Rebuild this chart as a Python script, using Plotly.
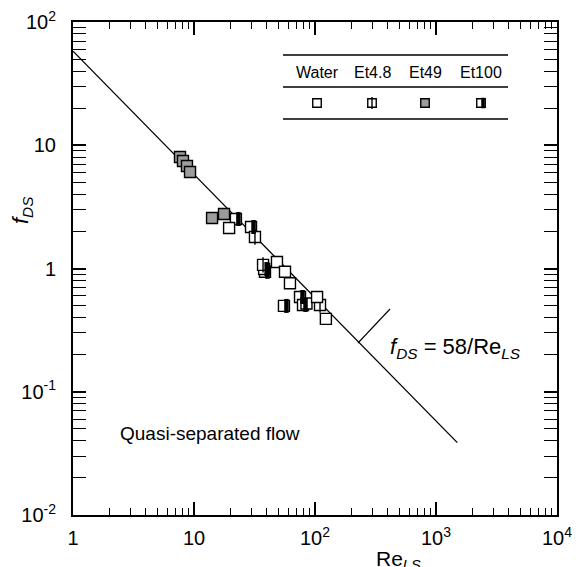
import numpy as np
import plotly.graph_objects as go

# ---------------- data ----------------
water_re = [19.5, 48.5, 56.5, 62.1, 85.0, 104.0, 123.0]
water_f = [2.13, 1.13, 0.94, 0.76, 0.52, 0.587, 0.39]

et48_re = [31.9, 37.2, 110.0]
et48_f = [1.80, 1.07, 0.506]

et49_re = [7.66, 8.11, 8.75, 9.27, 14.1, 17.7]
et49_f = [8.03, 7.45, 6.79, 6.07, 2.57, 2.77]

et100_re = [22.2, 29.6, 38.6, 38.0, 75.2, 79.6, 55.4]
et100_f = [2.52, 2.17, 0.94, 0.99, 0.587, 0.506, 0.497]

fit_coef = 58.0
fit_re = [1.0, 1500.0]
fit_f = [fit_coef / r for r in fit_re]

x_tickvals = [1, 10, 100, 1000, 10000]
x_ticktext = ["1", "10", "10<sup>2</sup>", "10<sup>3</sup>", "10<sup>4</sup>"]
y_tickvals = [0.01, 0.1, 1, 10, 100]
y_ticktext = ["10<sup>-2</sup>", "10<sup>-1</sup>", "1", "10", "10<sup>2</sup>"]

legend_names = ["Water", "Et4.8", "Et49", "Et100"]

# ---------------- layout geometry ----------------
W, H = 581, 567
L, R, T, B = 73, 24, 22, 52
PW, PH = W - L - R, H - T - B
DEC_X = PW / 4.0


def px(xp):
    return (xp - L) / PW


def py(yp):
    return (H - B - yp) / PH


FONT = "Liberation Sans, Arial, Helvetica, sans-serif"
MS = 11
LW = 1.4
GRAY = "#9c9c9c"

minor_x = [m * 10 ** k for k in range(0, 4) for m in range(2, 10)]
minor_y = [m * 10.0 ** k for k in range(-2, 2) for m in range(2, 10)]

fig = go.Figure()

# fit line
fig.add_trace(go.Scatter(x=fit_re, y=fit_f, mode="lines",
                         line=dict(color="black", width=1.3), showlegend=False))


def square_trace(x, y, fill, xaxis="x", yaxis="y", size=MS):
    return go.Scatter(x=x, y=y, mode="markers", xaxis=xaxis, yaxis=yaxis,
                      marker=dict(symbol="square", size=size, color=fill,
                                  line=dict(color="black", width=LW)),
                      showlegend=False, hoverinfo="skip")


def vbar_trace(x, y, width, xaxis="x", yaxis="y", size=MS):
    return go.Scatter(x=x, y=y, mode="markers", xaxis=xaxis, yaxis=yaxis,
                      marker=dict(symbol="line-ns-open", size=size, color="black",
                                  line=dict(color="black", width=width)),
                      showlegend=False, hoverinfo="skip")


# Et49 (gray)
fig.add_trace(square_trace(et49_re, et49_f, GRAY))
# Et100 (half filled): white square + shifted black bar
fig.add_trace(square_trace(et100_re, et100_f, "white"))
fig.add_trace(vbar_trace(et100_re, et100_f, 4.5, xaxis="x2", size=MS - 1))
# Et4.8 (square with center line)
fig.add_trace(square_trace(et48_re, et48_f, "white"))
fig.add_trace(vbar_trace(et48_re, et48_f, LW))
# Water (open)
fig.add_trace(square_trace(water_re, water_f, "white"))

# ---------------- legend table (pixel axes x3/y3) ----------------
leg_x = [317, 372, 425, 481]
leg_sym_y = 103
leg_txt_y = 72
LMS = 8.5
fig.add_trace(square_trace([leg_x[0] - L], [leg_sym_y - T], "white", "x3", "y3", LMS))
fig.add_trace(square_trace([leg_x[1] - L], [leg_sym_y - T], "white", "x3", "y3", LMS))
fig.add_trace(vbar_trace([leg_x[1] - L], [leg_sym_y - T], LW, "x3", "y3", LMS))
fig.add_trace(square_trace([leg_x[2] - L], [leg_sym_y - T], GRAY, "x3", "y3", LMS))
fig.add_trace(square_trace([leg_x[3] - L], [leg_sym_y - T], "white", "x3", "y3", LMS))
fig.add_trace(vbar_trace([leg_x[3] - L + 2], [leg_sym_y - T], 3.5, "x3", "y3", LMS - 1))

annotations = []
for name, xx in zip(legend_names, leg_x):
    annotations.append(dict(x=px(xx), y=py(leg_txt_y), xref="paper", yref="paper",
                            text=name, showarrow=False, xanchor="center", yanchor="middle",
                            font=dict(family=FONT, size=16, color="black")))

shapes = []
for yy in [55, 87, 119]:
    shapes.append(dict(type="line", xref="paper", yref="paper",
                       x0=px(283), x1=px(508), y0=py(yy), y1=py(yy),
                       line=dict(color="black", width=1.3)))

# leader line for the fit label
shapes.append(dict(type="line", xref="paper", yref="paper",
                   x0=px(358), y0=py(343), x1=px(390), y1=py(309),
                   line=dict(color="black", width=1.1)))

annotations += [
    dict(x=px(388), y=py(348), xref="paper", yref="paper", xanchor="left", yanchor="middle",
         text="<i>f</i><sub><i>DS</i></sub> = 58/Re<sub><i>LS</i></sub>", showarrow=False,
         font=dict(family=FONT, size=22, color="black")),
    dict(x=px(118), y=py(434), xref="paper", yref="paper", xanchor="left", yanchor="middle",
         text="Quasi-separated flow", showarrow=False,
         font=dict(family=FONT, size=19, color="black")),
    dict(x=px(398), y=py(560), xref="paper", yref="paper", xanchor="center", yanchor="middle",
         text="Re<sub><i>LS</i></sub>", showarrow=False,
         font=dict(family=FONT, size=21, color="black")),
    dict(x=px(22), y=py(210), xref="paper", yref="paper", xanchor="center", yanchor="middle",
         text="<i>f</i><sub><i>DS</i></sub>", showarrow=False, textangle=-90,
         font=dict(family=FONT, size=22, color="black")),
]

axis_common = dict(type="log", showgrid=False, zeroline=False, showline=True,
                   linecolor="black", linewidth=2, mirror="allticks", automargin=False,
                   ticks="inside", ticklen=13, tickwidth=1.5, tickcolor="black",
                   tickfont=dict(family=FONT, size=20, color="black"))

delta = 2.5 / DEC_X
fig.update_layout(
    width=W, height=H,
    margin=dict(l=L, r=R, t=T, b=B, pad=0, autoexpand=False),
    paper_bgcolor="white", plot_bgcolor="white",
    showlegend=False,
    xaxis=dict(range=[0, 4], tickmode="array", tickvals=x_tickvals, ticktext=x_ticktext,
               minor=dict(tickmode="array", tickvals=minor_x, ticks="inside", ticklen=7,
                          tickwidth=1.2, tickcolor="black"),
               ticklabelstandoff=4,
               **axis_common),
    yaxis=dict(range=[-2, 2], tickmode="array", tickvals=y_tickvals, ticktext=y_ticktext,
               minor=dict(tickmode="array", tickvals=minor_y, ticks="inside", ticklen=7,
                          tickwidth=1.2, tickcolor="black"),
               ticklabelstandoff=11,
               **axis_common),
    xaxis2=dict(type="log", overlaying="x", range=[-delta, 4 - delta], visible=False),
    xaxis3=dict(overlaying="x", range=[0, PW], visible=False),
    yaxis3=dict(overlaying="y", range=[PH, 0], visible=False),
    annotations=annotations,
    shapes=shapes,
)

fig.write_html("out.html", config={"displayModeBar": False},
               post_script="document.body.style.margin='0';document.body.style.overflow='hidden';")
